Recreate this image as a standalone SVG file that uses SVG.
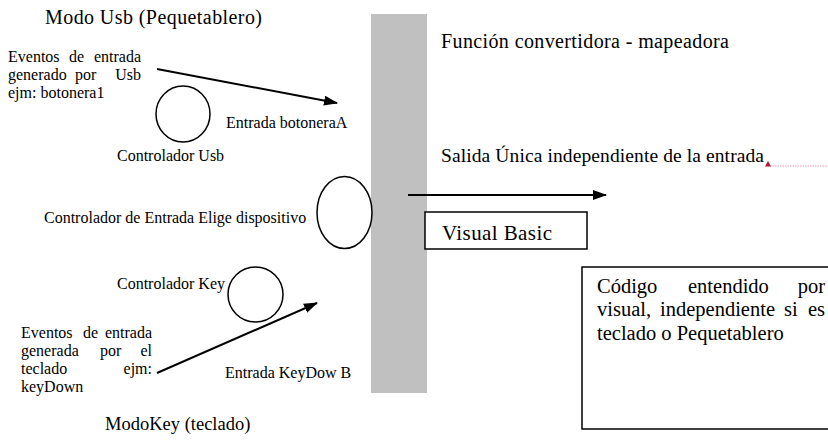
<svg xmlns="http://www.w3.org/2000/svg" width="828" height="447" viewBox="0 0 828 447" font-family="'Liberation Serif', 'Times New Roman', serif">
<style>
text{font-family:'Liberation Serif','Times New Roman',serif;fill:#000}
.s16{font-size:16px}
.s18{font-size:18.5px}
.s20{font-size:20px}
.s205{font-size:20.5px}
.shape{fill:#fff;stroke:#000;stroke-width:1.5}
.conn{stroke:#000;stroke-width:2;fill:none}
</style>
<defs>
<marker id="ah" markerUnits="userSpaceOnUse" markerWidth="14" markerHeight="10" refX="13" refY="5" orient="auto">
<path d="M0,0 L14,5 L0,10 z" fill="#000"/>
</marker>
</defs>
<rect id="bar" x="371" y="14" width="56" height="379" fill="#c0c0c0"/>

<g id="title-usb"><text class="s20" x="45" y="24" textLength="217">Modo Usb (Pequetablero)</text></g>

<g id="eventos-usb">
<text class="s16" x="8" y="62">Eventos</text>
<text class="s16" x="69" y="62">de</text>
<text class="s16" x="141" y="62" text-anchor="end">entrada</text>
<text class="s16" x="8" y="80">generado</text>
<text class="s16" x="75" y="80">por</text>
<text class="s16" x="141" y="80" text-anchor="end">Usb</text>
<text class="s16" x="8" y="98">ejm: botonera1</text>
</g>

<g id="controlador-usb">
<ellipse class="shape" cx="183" cy="114" rx="27" ry="28"/>
<text class="s16" x="117" y="161">Controlador Usb</text>
</g>

<g id="entrada-botonera"><text class="s16" x="226" y="128">Entrada botoneraA</text></g>

<g id="controlador-entrada">
<ellipse class="shape" cx="344.5" cy="212.5" rx="27.5" ry="36"/>
<text class="s16" x="44" y="223">Controlador de Entrada Elige dispositivo</text>
</g>

<g id="controlador-key">
<ellipse class="shape" cx="255.5" cy="294.5" rx="27.5" ry="27.5"/>
<text class="s16" x="117" y="289">Controlador Key</text>
</g>

<g id="eventos-key">
<text class="s16" x="21" y="338">Eventos</text>
<text class="s16" x="83" y="338">de</text>
<text class="s16" x="152" y="338" text-anchor="end">entrada</text>
<text class="s16" x="21" y="356">generada</text>
<text class="s16" x="100" y="356">por</text>
<text class="s16" x="152" y="356" text-anchor="end">el</text>
<text class="s16" x="21" y="374">teclado</text>
<text class="s16" x="152" y="374" text-anchor="end">ejm:</text>
<text class="s16" x="21" y="392">keyDown</text>
</g>

<g id="entrada-keydown"><text class="s16" x="225" y="378">Entrada KeyDow B</text></g>

<g id="title-key"><text class="s18" x="105" y="430">ModoKey (teclado)</text></g>

<g id="funcion"><text class="s20" x="441" y="48" textLength="288">Función convertidora - mapeadora</text></g>

<g id="salida">
<text x="441" y="162" style="font-size:19.5px" textLength="323">Salida Única independiente de la entrada</text>
<line x1="770" y1="166" x2="828" y2="166" stroke="#e09aac" stroke-width="1.2" stroke-dasharray="1.5,1"/>
<path d="M765,166.5 L768,161 L771,166.5 z" fill="#b0103a"/>
</g>

<g id="visual-basic">
<rect class="shape" x="425" y="212" width="162" height="37"/>
<text x="442" y="240" style="font-size:21px" textLength="110">Visual Basic</text>
</g>

<g id="codigo">
<rect class="shape" x="582" y="267" width="250" height="162"/>
<text class="s205" x="597" y="293">Código</text>
<text class="s205" x="688" y="293">entendido</text>
<text class="s205" x="825" y="293" text-anchor="end">por</text>
<text class="s205" x="597" y="316">visual,</text>
<text class="s205" x="660" y="316">independiente</text>
<text class="s205" x="784" y="316">si</text>
<text class="s205" x="825" y="316" text-anchor="end">es</text>
<text class="s205" x="597" y="340">teclado o Pequetablero</text>
</g>

<g id="connectors">
<line class="conn" x1="157" y1="69" x2="337" y2="103" marker-end="url(#ah)"/>
<line class="conn" x1="157" y1="373" x2="317" y2="303" marker-end="url(#ah)"/>
<line class="conn" x1="408" y1="195" x2="606" y2="195" marker-end="url(#ah)"/>
</g>
</svg>
